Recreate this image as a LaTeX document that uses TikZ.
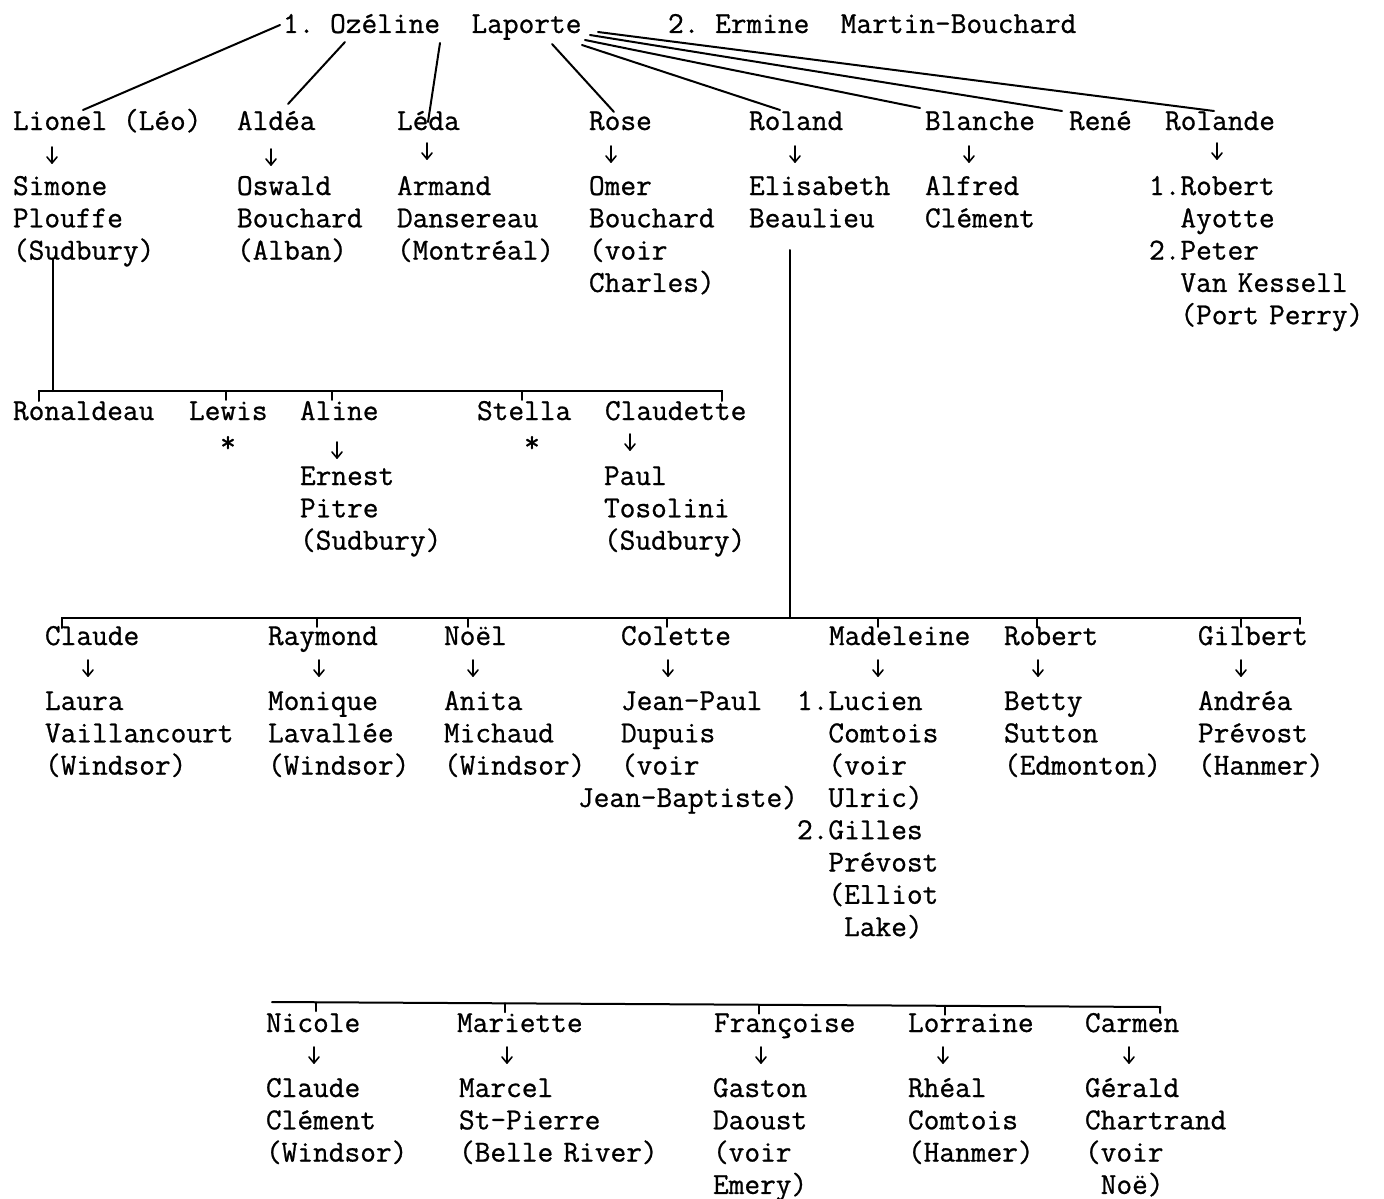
\documentclass[tikz,border=0pt]{standalone}
\usepackage{fontspec}
\newfontfamily\twfont{Latin Modern Mono}[FakeBold=0.8]
\usetikzlibrary{calc}
\tikzset{
  tw/.style={font=\twfont\frenchspacing\fontsize{30.5}{32.3}\selectfont, inner sep=0pt, outer sep=0pt, anchor=base west},
  blk/.style={tw, text width=330pt, align=left},
  ln/.style={line width=2pt, line cap=round},
  tk/.style={line width=1.7pt, line cap=round},
  star/.style={font=\twfont\fontsize{30.5}{32.3}\selectfont, inner sep=0pt, anchor=base},
  darr/.pic={\draw[line width=1.6pt,line cap=round] (0,-8)--(0,8);
             \draw[line width=1.6pt,line cap=round,line join=round] (-5,2)--(0,8)--(5,2);}
}
\begin{document}
\begin{tikzpicture}[x=1pt,y=-1pt]
\useasboundingbox[fill=white] (0,0) rectangle (1384,1199);

% ---- top
\node[tw] (ozeline) at (283,33) {1. Ozéline\ \ Laporte};
\node[tw] (ermine) at (668,33) {2. Ermine\ \ Martin-Bouchard};

% ---- generation 1
\node[tw] (lionel) at (13,130) {Lionel (Léo)};
\node[tw] (aldea) at (237,130) {Aldéa};
\node[tw] (leda) at (397,130) {Léda};
\node[tw] (rose) at (589,130) {Rose};
\node[tw] (roland) at (749,130) {Roland};
\node[tw] (blanche) at (925,130) {Blanche};
\node[tw] (rene) at (1069,130) {René};
\node[tw] (rolande) at (1165,130) {Rolande};

\node[blk] (simone) at (13,195) {Simone\\Plouffe\\(Sudbury)};
\node[blk] (oswald) at (237,195) {Oswald\\Bouchard\\(Alban)};
\node[blk] (armand) at (397,195) {Armand\\Dansereau\\(Montréal)};
\node[blk] (omer) at (589,195) {Omer\\Bouchard\\(voir\\Charles)};
\node[blk] (elisabeth) at (749,195) {Elisabeth\\Beaulieu};
\node[blk] (alfred) at (925,195) {Alfred\\Clément};
\node[blk] (robertA) at (1149,195) {1.Robert\\\phantom{1.}Ayotte\\2.Peter\\\phantom{1.}Van Kessell\\\phantom{1.}(Port Perry)};

\pic at (52,155) {darr};
\pic at (271,157) {darr};
\pic at (427,151) {darr};
\pic at (611,154) {darr};
\pic at (795,154) {darr};
\pic at (969,154) {darr};
\pic at (1217,151) {darr};

\draw[ln] ($(ozeline.base west)+(-3,-8)$) -- ($(lionel.base west)+(70,-20)$);
\draw[ln] ($(ozeline.base west)+(62,9)$) -- ($(aldea.base west)+(51,-26)$);
\draw[ln] ($(ozeline.base west)+(157,10)$) -- ($(leda.base west)+(31,-8)$);
\draw[ln] ($(ozeline.base west)+(269,11)$) -- ($(rose.base west)+(25,-18)$);
\draw[ln] ($(ozeline.base west)+(299,12)$) -- ($(roland.base west)+(31,-20)$);
\draw[ln] ($(ozeline.base west)+(302,7)$) -- ($(blanche.base west)+(-5,-22)$);
\draw[ln] ($(ozeline.base west)+(307,2)$) -- ($(rene.base west)+(-7,-19)$);
\draw[ln] ($(ozeline.base west)+(315,-1)$) -- ($(rolande.base west)+(49,-19)$);

% ---- Lionel's children
\node[tw] (ronaldeau) at (13,420) {Ronaldeau};
\node[tw] (lewis) at (189,420) {Lewis};
\node[tw] (aline) at (300,420) {Aline};
\node[tw] (stella) at (477,420) {Stella};
\node[tw] (claudette) at (605,420) {Claudette};
\node[star] (starL) at (228,452) {*};
\node[star] (starS) at (532,452) {*};
\pic at (337,450) {darr};
\pic at (630,442) {darr};
\node[blk] (ernest) at (300,485) {Ernest\\Pitre\\(Sudbury)};
\node[blk] (paul) at (604,485) {Paul\\Tosolini\\(Sudbury)};

\coordinate (barA) at ($(ronaldeau.base west)+(40,-29)$);
\draw[ln] ($(simone.base west)+(40,64)$) -- (barA);
\draw[ln] ($(ronaldeau.base west)+(26,-19)$) -- ++(0,-10) -- ($(claudette.base west)+(117,-29)$) -- ++(0,10);
\draw[tk] ($(lewis.base west)+(37,-29)$) -- ++(0,9);
\draw[tk] ($(aline.base west)+(32,-29)$) -- ++(0,9);
\draw[tk] ($(stella.base west)+(45,-29)$) -- ++(0,9);

% ---- Roland's children
\node[tw] (claude) at (45,645) {Claude};
\node[tw] (raymond) at (268,645) {Raymond};
\node[tw] (noel) at (444,645) {Noël};
\node[tw] (colette) at (621,645) {Colette};
\node[tw] (madeleine) at (829,645) {Madeleine};
\node[tw] (robertB) at (1004,645) {Robert};
\node[tw] (gilbert) at (1198,645) {Gilbert};

\pic at (88,668) {darr};
\pic at (319,668) {darr};
\pic at (473,668) {darr};
\pic at (668,668) {darr};
\pic at (878,668) {darr};
\pic at (1038,668) {darr};
\pic at (1241,668) {darr};

\node[blk] (laura) at (45,710) {Laura\\Vaillancourt\\(Windsor)};
\node[blk] (monique) at (268,710) {Monique\\Lavallée\\(Windsor)};
\node[blk] (anita) at (444,710) {Anita\\Michaud\\(Windsor)};
\node[blk] (jeanpaul) at (578,710) {\hspace*{43pt}Jean-Paul\\\hspace*{43pt}Dupuis\\\hspace*{43pt}(voir\\Jean-Baptiste)};
\node[blk] (lucien) at (797,710) {1.Lucien\\\phantom{1.}Comtois\\\phantom{1.}(voir\\\phantom{1.}Ulric)\\2.Gilles\\\phantom{1.}Prévost\\\phantom{1.}(Elliot\\\phantom{1.(}Lake)};
\node[blk] (betty) at (1004,710) {Betty\\Sutton\\(Edmonton)};
\node[blk] (andrea) at (1198,710) {Andréa\\Prévost\\(Hanmer)};

\draw[ln] ($(elisabeth.base west)+(41,55)$) -- ($(madeleine.base west)+(-39,-27)$);
\draw[ln] ($(claude.base west)+(17,-17)$) -- ++(0,-10) -- ($(gilbert.base west)+(102,-27)$) -- ++(0,6);
\draw[tk] ($(raymond.base west)+(49,-27)$) -- ++(0,9);
\draw[tk] ($(noel.base west)+(24,-27)$) -- ++(0,9);
\draw[tk] ($(colette.base west)+(46,-27)$) -- ++(0,9);
\draw[tk] ($(madeleine.base west)+(49,-27)$) -- ++(0,9);
\draw[tk] ($(robertB.base west)+(33,-27)$) -- ++(0,9);
\draw[tk] ($(gilbert.base west)+(43,-27)$) -- ++(0,9);

% ---- last family
\node[tw] (nicole) at (266,1032) {Nicole};
\node[tw] (mariette) at (457,1032) {Mariette};
\node[tw] (francoise) at (714,1032) {Françoise};
\node[tw] (lorraine) at (908,1032) {Lorraine};
\node[tw] (carmen) at (1085,1032) {Carmen};

\pic at (314,1055) {darr};
\pic at (507,1055) {darr};
\pic at (761,1055) {darr};
\pic at (943,1055) {darr};
\pic at (1129,1055) {darr};

\node[blk] (claudeC) at (266,1097) {Claude\\Clément\\(Windsor)};
\node[blk] (marcel) at (459,1097) {Marcel\\St-Pierre\\(Belle River)};
\node[blk] (gaston) at (713,1097) {Gaston\\Daoust\\(voir\\Emery)};
\node[blk] (rheal) at (908,1097) {Rhéal\\Comtois\\(Hanmer)};
\node[blk] (gerald) at (1085,1097) {Gérald\\Chartrand\\(voir\\\phantom{(}Noë)};

\draw[ln] ($(nicole.base west)+(6,-30)$) -- ($(carmen.base west)+(75,-25)$) -- ++(0,6);
\draw[tk] ($(nicole.base west)+(50,-29.8)$) -- ++(0,9);
\draw[tk] ($(mariette.base west)+(48,-28.7)$) -- ++(0,9);
\draw[tk] ($(francoise.base west)+(45,-27.3)$) -- ++(0,9);
\draw[tk] ($(lorraine.base west)+(37,-26.2)$) -- ++(0,9);
\end{tikzpicture}
\end{document}
